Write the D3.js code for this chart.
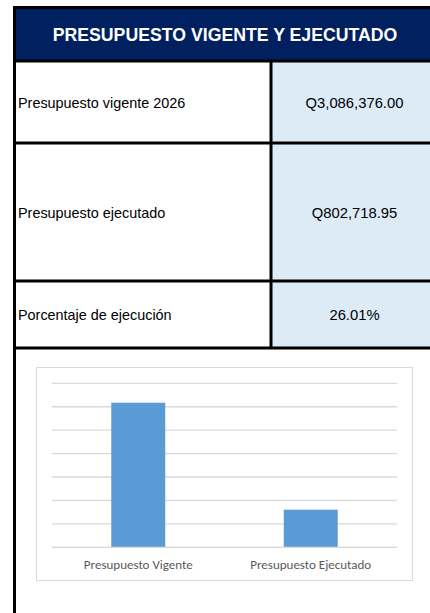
<!DOCTYPE html>
<html>
<head>
<meta charset="utf-8">
<script src="https://cdn.jsdelivr.net/npm/d3@7"></script>
<style>
  html, body { margin: 0; padding: 0; background: #fff; }
  svg { display: block; }
</style>
</head>
<body>
<svg id="chart" width="430" height="613"></svg>
<script>
const title = "PRESUPUESTO VIGENTE Y EJECUTADO";
const rowLabels = ["Presupuesto vigente 2026", "Presupuesto ejecutado", "Porcentaje de ejecución"];
const rowValues = ["Q3,086,376.00", "Q802,718.95", "26.01%"];
const categories = ["Presupuesto Vigente", "Presupuesto Ejecutado"];
const values = [3086376.00, 802718.95];
const yTicks = [0, 500000, 1000000, 1500000, 2000000, 2500000, 3000000, 3500000];

(function () {
const svg = d3.select("#chart");
const W = 430, H = 613;

const rowEdges = [61, 143, 281, 348]; // line centers
const colX = 271;

// header
svg.append("rect").attr("x", 16).attr("y", 9).attr("width", W - 16).attr("height", 51)
  .attr("fill", "#002060");
svg.append("text").attr("x", 225).attr("y", 34.5).attr("text-anchor", "middle")
  .attr("dominant-baseline", "central")
  .attr("font-family", "Arial, 'Liberation Sans', sans-serif").attr("font-weight", "bold")
  .attr("font-size", 17.7).attr("fill", "#fff").text(title);

// cells
rowLabels.forEach((lab, i) => {
  const y0 = rowEdges[i], y1 = rowEdges[i + 1];
  svg.append("rect").attr("x", colX).attr("y", y0).attr("width", W - colX).attr("height", y1 - y0)
    .attr("fill", "#DDEBF7");
  const cy = (y0 + y1) / 2 + 0.5;
  svg.append("text").attr("x", 18).attr("y", cy).attr("dominant-baseline", "central")
    .attr("font-family", "Arial, 'Liberation Sans', sans-serif").attr("font-size", 14.4)
    .attr("fill", "#000").text(lab);
  svg.append("text").attr("x", (colX + W) / 2 + 4).attr("y", cy).attr("dominant-baseline", "central")
    .attr("text-anchor", "middle")
    .attr("font-family", "Arial, 'Liberation Sans', sans-serif").attr("font-size", 14.8)
    .attr("fill", "#000").text(rowValues[i]);
});

// borders
const lines = svg.append("g").attr("stroke", "#000").attr("stroke-width", 3);
lines.append("line").attr("x1", 13).attr("x2", W).attr("y1", 7.5).attr("y2", 7.5);
lines.append("line").attr("x1", 14.5).attr("x2", 14.5).attr("y1", 6).attr("y2", H);
rowEdges.forEach(yy => {
  lines.append("line").attr("x1", 13).attr("x2", W).attr("y1", yy).attr("y2", yy);
});
lines.append("line").attr("x1", colX).attr("x2", colX).attr("y1", rowEdges[0]).attr("y2", rowEdges[3]);

// chart frame
svg.append("rect").attr("x", 36.5).attr("y", 367.5).attr("width", 376).attr("height", 213)
  .attr("fill", "#fff").attr("stroke", "#d9d9d9").attr("stroke-width", 1);

const plot = { x0: 52, x1: 397, y0: 383.3, y1: 547.3 };
const x = d3.scaleBand().domain(categories).range([plot.x0, plot.x1]).paddingInner(0.687).paddingOuter(0.3435);
const y = d3.scaleLinear().domain([0, 3500000]).range([plot.y1, plot.y0]);

svg.append("g").selectAll("line").data(yTicks).join("line")
  .attr("x1", plot.x0).attr("x2", plot.x1)
  .attr("y1", d => y(d)).attr("y2", d => y(d))
  .attr("stroke", "#d9d9d9").attr("stroke-width", 1.3);

svg.append("g").selectAll("rect").data(values).join("rect")
  .attr("x", (d, i) => x(categories[i]))
  .attr("width", x.bandwidth())
  .attr("y", d => y(d))
  .attr("height", d => y(0) - y(d))
  .attr("fill", "#5B9BD5");

svg.append("line").attr("x1", plot.x0).attr("x2", plot.x1).attr("y1", y(0)).attr("y2", y(0))
  .attr("stroke", "#d9d9d9").attr("stroke-width", 1.3);

svg.append("g").selectAll("text").data(categories).join("text")
  .attr("x", d => x(d) + x.bandwidth() / 2)
  .attr("y", 564.5)
  .attr("text-anchor", "middle").attr("dominant-baseline", "central")
  .attr("font-family", "Carlito, Calibri, 'Open Sans', sans-serif").attr("font-size", 13)
  .attr("fill", "#595959").text(d => d);
})();
</script>
</body>
</html>
